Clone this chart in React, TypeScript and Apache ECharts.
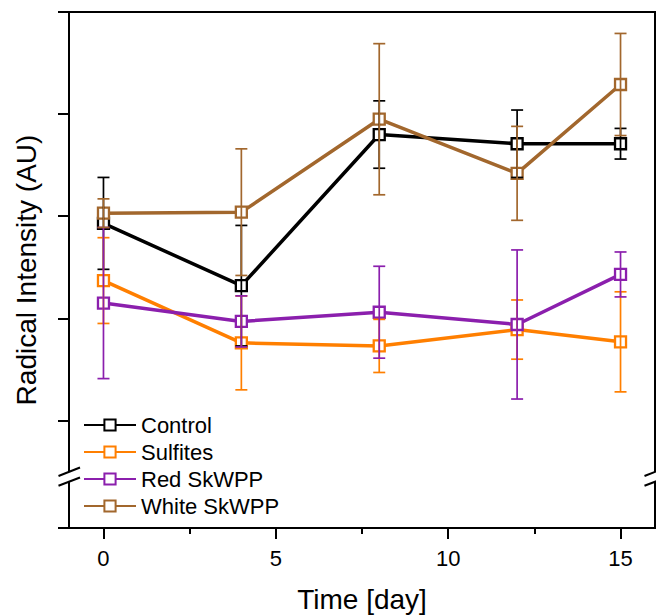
import React, { useEffect, useRef } from "react";
import * as echarts from "echarts";

// ---- data (arbitrary units; tick spacing = 1) ----
const days = [0, 4, 8, 12, 15];
const controlMean = [2.93, 2.32, 3.8, 3.71, 3.71];
const controlErr = [0.45, 0.59, 0.33, 0.33, 0.15];
const sulfitesMean = [2.37, 1.76, 1.73, 1.89, 1.77];
const sulfitesErr = [0.42, 0.46, 0.26, 0.29, 0.49];
const redMean = [2.15, 1.97, 2.06, 1.94, 2.43];
const redErr = [0.74, 0.25, 0.45, 0.73, 0.22];
const whiteMean = [3.03, 3.04, 3.95, 3.42, 4.29];
const whiteErr = [0.14, 0.62, 0.74, 0.46, 0.5];
const seriesNames = ["Control", "Sulfites", "Red SkWPP", "White SkWPP"];
const xTicks = [0, 5, 10, 15];
const xMinorTicks = [2.5, 7.5, 12.5];
const yTicks = [1, 2, 3, 4, 5];
const yMin = -0.053;
const yMax = 5;
const xMin = -1;
const xMax = 16;

const FONT = "'Liberation Sans', Arial, sans-serif";

export default function App() {
  const ref = useRef<HTMLDivElement>(null);

  useEffect(() => {
    if (!ref.current) return;
    const chart = echarts.init(ref.current, undefined, { renderer: "svg" });

    const groups = [
      { name: seriesNames[0], mean: controlMean, err: controlErr, color: "#000000" },
      { name: seriesNames[1], mean: sulfitesMean, err: sulfitesErr, color: "#FF7F00" },
      { name: seriesNames[2], mean: redMean, err: redErr, color: "#8B1FAD" },
      { name: seriesNames[3], mean: whiteMean, err: whiteErr, color: "#A2672D" },
    ];

    const lineSeries = groups.map((g) => ({
      name: g.name,
      type: "line",
      xAxisIndex: 0,
      data: days.map((d, i) => [d, g.mean[i]]),
      symbol: "rect",
      symbolSize: 11,
      lineStyle: { color: g.color, width: 3.5 },
      itemStyle: { color: "#ffffff", borderColor: g.color, borderWidth: 2.3 },
      z: 2,
    }));

    const errSeries = groups.map((g) => ({
      name: g.name + " error",
      type: "custom",
      xAxisIndex: 0,
      data: days.map((d, i) => [d, g.mean[i] - g.err[i], g.mean[i] + g.err[i]]),
      encode: { x: 0, y: [1, 2] },
      z: 3,
      renderItem: (params: any, api: any) => {
        const x = api.value(0);
        const pLo = api.coord([x, api.value(1)]);
        const pHi = api.coord([x, api.value(2)]);
        const hw = 6;
        const style = { stroke: g.color, lineWidth: 1.7 };
        return {
          type: "group",
          children: [
            { type: "line", shape: { x1: pLo[0], y1: pLo[1], x2: pHi[0], y2: pHi[1] }, style },
            { type: "line", shape: { x1: pHi[0] - hw, y1: pHi[1], x2: pHi[0] + hw, y2: pHi[1] }, style },
            { type: "line", shape: { x1: pLo[0] - hw, y1: pLo[1], x2: pLo[0] + hw, y2: pLo[1] }, style },
          ],
        };
      },
    }));

    const axisLineStyle = { color: "#000", width: 2 };

    const breakMark = (ax: number, ay: number) => [
      {
        type: "polygon",
        z: 100,
        shape: {
          points: [
            [ax - 10.5, ay - 1],
            [ax + 11, ay - 9.5],
            [ax + 11, ay + 0.5],
            [ax - 10.5, ay + 8.7],
          ],
        },
        style: { fill: "#fff" },
      },
      {
        type: "line",
        z: 101,
        shape: { x1: ax - 10.5, y1: ay - 1, x2: ax + 11, y2: ay - 9.5 },
        style: { stroke: "#000", lineWidth: 2 },
      },
      {
        type: "line",
        z: 101,
        shape: { x1: ax - 10.5, y1: ay + 8.7, x2: ax + 11, y2: ay + 0.5 },
        style: { stroke: "#000", lineWidth: 2 },
      },
    ];

    chart.setOption({
      animation: false,
      grid: {
        left: 69,
        right: 1,
        top: 12,
        bottom: 88,
        show: true,
        borderColor: "#000",
        borderWidth: 2,
        backgroundColor: "transparent",
        outerBoundsMode: "none",
        containLabel: false,
      },
      legend: {
        data: seriesNames,
        orient: "vertical",
        left: 78,
        top: 409,
        padding: 5,
        itemWidth: 52,
        itemHeight: 14,
        itemGap: 5,
        selectedMode: false,
        textStyle: { fontSize: 22, fontFamily: FONT, color: "#000", lineHeight: 22 },
      },
      xAxis: [
        {
          type: "value",
          min: xMin,
          max: xMax,
          position: "bottom",
          axisLine: { show: true, onZero: false, lineStyle: axisLineStyle },
          axisTick: { show: true, length: 11, customValues: xTicks, lineStyle: axisLineStyle },
          axisLabel: {
            show: true,
            customValues: xTicks,
            fontSize: 22,
            margin: 19,
            fontFamily: FONT,
            color: "#000",
          },
          splitLine: { show: false },
          name: "Time [day]",
          nameLocation: "middle",
          nameGap: 57,
          nameTextStyle: { fontSize: 28, fontFamily: FONT, color: "#000" },
        },
        {
          type: "value",
          min: xMin,
          max: xMax,
          position: "bottom",
          axisLine: { show: false, onZero: false },
          axisTick: { show: true, length: 6, customValues: xMinorTicks, lineStyle: axisLineStyle },
          axisLabel: { show: false },
          splitLine: { show: false },
        },
      ],
      yAxis: {
        type: "value",
        min: yMin,
        max: yMax,
        axisLine: { show: true, onZero: false, lineStyle: axisLineStyle },
        axisTick: { show: true, length: 11, customValues: [yMin, ...yTicks], lineStyle: axisLineStyle },
        axisLabel: { show: false },
        splitLine: { show: false },
        name: "Radical Intensity (AU)",
        nameLocation: "middle",
        nameGap: 29,
        nameTextStyle: { fontSize: 28, fontFamily: FONT, color: "#000" },
      },
      graphic: [...breakMark(69, 477), ...breakMark(655, 477)],
      series: [...lineSeries, ...errSeries],
    } as any);

    return () => chart.dispose();
  }, []);

  return (
    <div
      ref={ref}
      style={{ position: "absolute", left: 0, top: 0, width: 656, height: 616, background: "#fff" }}
    />
  );
}
